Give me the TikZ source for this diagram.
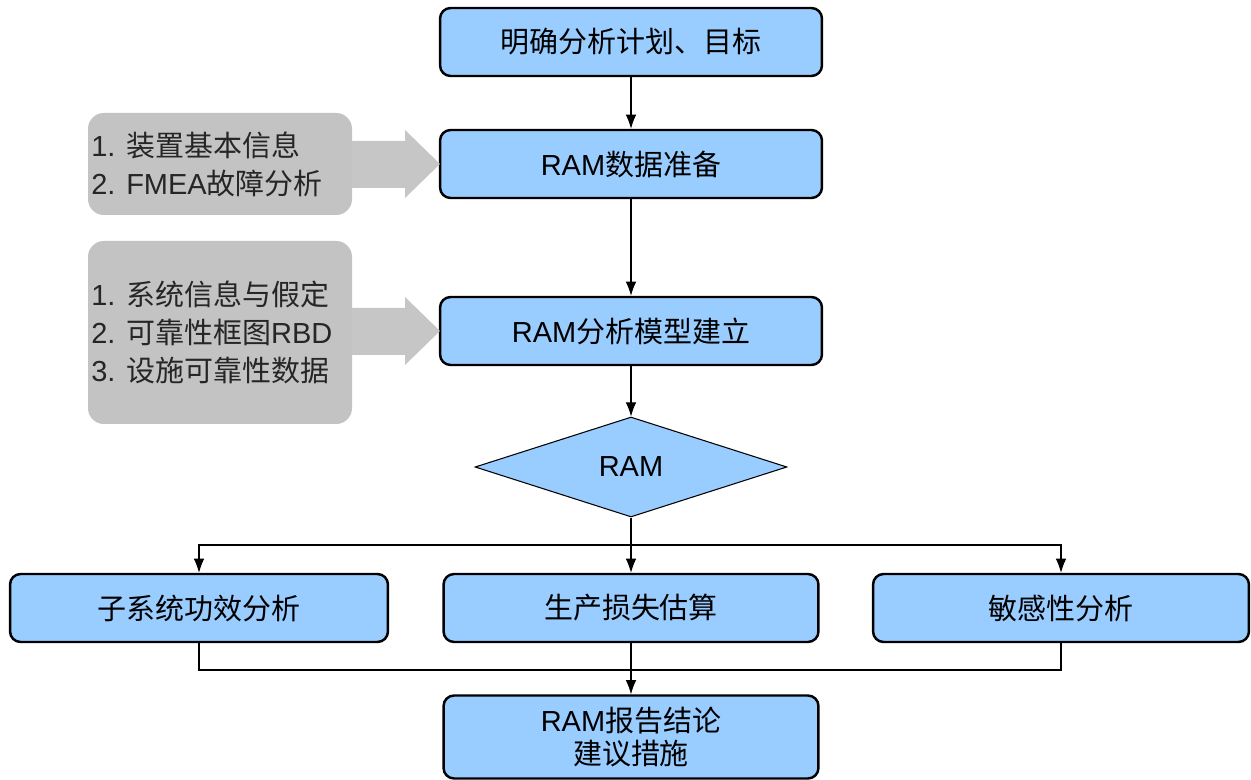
\documentclass[tikz,border=0pt]{standalone}
\usepackage{fontspec}
\setmainfont{Liberation Sans}
\newfontfamily\cjk{Noto Sans CJK SC}
\usetikzlibrary{shapes.geometric,shapes.arrows,arrows.meta}
\begin{document}
\begin{tikzpicture}[x=0.02cm,y=-0.02cm,
  bluebox/.style={draw=black,line width=1.4pt,fill=boxblue,rounded corners=6pt,minimum height=1.36cm,font=\fontsize{16.5}{19}\selectfont,align=center,inner sep=0pt},
  graybox/.style={font=\fontsize{16.5}{21.6}\selectfont,align=left,inner sep=0pt,text=black!85},
  conn/.style={draw=black,line width=0.6pt,-{Latex[length=8pt,width=6pt]}},
  line/.style={draw=black,line width=0.6pt}]
\definecolor{boxblue}{HTML}{99CCFF}
\definecolor{boxgray}{HTML}{C3C3C3}
\definecolor{arrgray}{HTML}{C6C6C6}
\useasboundingbox (0,0) rectangle (1251,780);
% main boxes
\node[bluebox,minimum width=7.64cm] (a) at (631,42) {\cjk 明确分析计划、目标};
\node[bluebox,minimum width=7.64cm] (b) at (631,164) {RAM{\cjk 数据准备}};
\node[bluebox,minimum width=7.64cm] (c) at (631,331) {RAM{\cjk 分析模型建立}};
\node[diamond,draw=black,line width=0.6pt,fill=boxblue,minimum width=6.24cm,minimum height=2.0cm,inner sep=0pt,font=\fontsize{16.5}{19}\selectfont] (d) at (631,467) {RAM};
\node[bluebox,minimum width=7.56cm] (e) at (199,608) {\cjk 子系统功效分析};
\node[bluebox,minimum width=7.5cm] (f) at (631,608) {\cjk 生产损失估算};
\node[bluebox,minimum width=7.52cm] (g) at (1061,608) {\cjk 敏感性分析};
\node[bluebox,minimum width=7.5cm,minimum height=1.66cm,font=\fontsize{16.5}{18.5}\selectfont] (h) at (631,737) {RAM{\cjk 报告结论}\\{\cjk 建议措施}};
% gray boxes
\fill[boxgray,rounded corners=9pt] (88,113) rectangle (352,215);
\node[graybox,anchor=west] (p) at (91,164) {1. {\cjk 装置基本信息}\\2. FMEA{\cjk 故障分析}};
\fill[boxgray,rounded corners=9pt] (88,241) rectangle (352,424);
\node[graybox,anchor=west] (q) at (91,332) {1. {\cjk 系统信息与假定}\\2. {\cjk 可靠性框图}RBD\\3. {\cjk 设施可靠性数据}};
% gray arrows
\fill[arrgray] (352,141) -- (405,141) -- (405,130) -- (440,164) -- (405,198) -- (405,188) -- (352,188) -- cycle;
\fill[arrgray] (352,308) -- (405,308) -- (405,297) -- (440,331) -- (405,365) -- (405,355) -- (352,355) -- cycle;
% connectors
\draw[conn] (a) -- (b);
\draw[conn] (b) -- (c);
\draw[conn] (c) -- (d);
\coordinate (br) at (631,545);
\coordinate (mg) at (631,670);
\draw[conn] (d.south) -- (f);
\draw[conn] (br) -| (e.north);
\draw[conn] (br) -| (g.north);
\draw[line] (e.south) |- (mg);
\draw[line] (g.south) |- (mg);
\draw[conn] (f) -- (h);
\end{tikzpicture}
\end{document}
